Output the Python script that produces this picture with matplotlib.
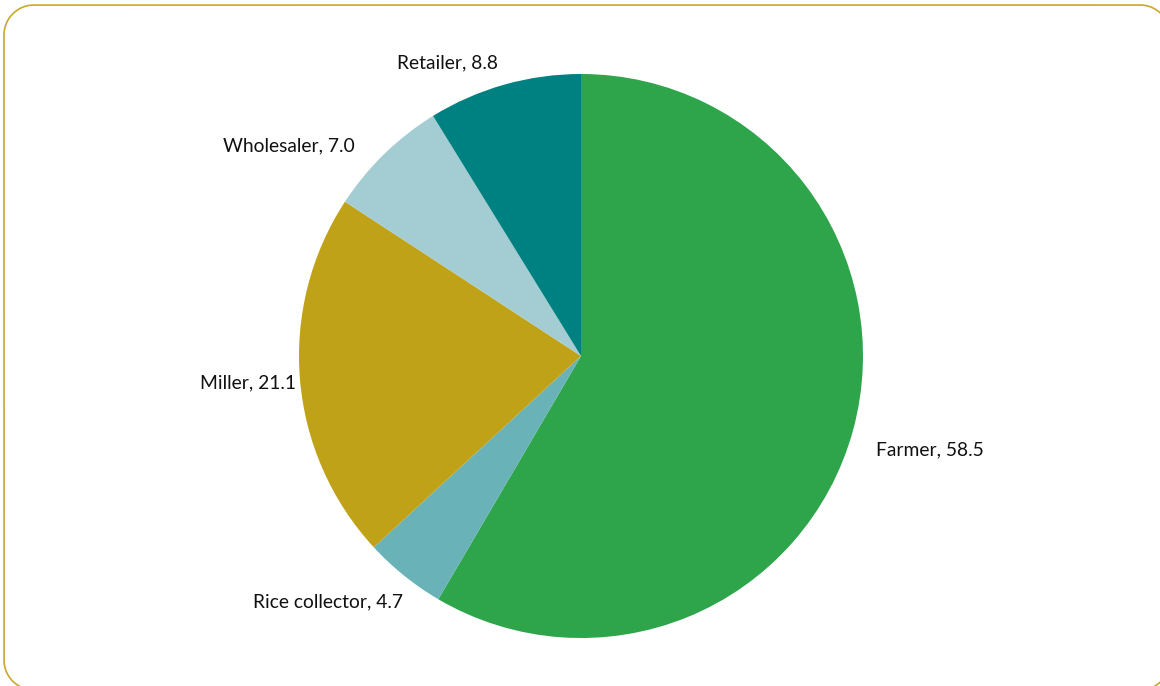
import numpy as np
import matplotlib
matplotlib.use("Agg")
import matplotlib.pyplot as plt
from matplotlib.lines import Line2D
from matplotlib.transforms import IdentityTransform, ScaledTranslation

categories = ["Farmer", "Rice collector", "Miller", "Wholesaler", "Retailer"]
values = [58.5, 4.7, 21.1, 7.0, 8.8]
colors = ["#2EA44B", "#69B2B8", "#C0A219", "#A3CDD2", "#008181"]

labels = [f"{c}, {v:.1f}" for c, v in zip(categories, values)]

# small per-label nudges (pixels, x right / y down) — styling only
label_nudges = [(4, 15), (11, 11), (16, 2), (-16, 6), (-1, -3)]

plt.rcParams['font.family'] = ['Lato', 'DejaVu Sans']

W, H = 1160, 686
fig = plt.figure(figsize=(W / 100, H / 100), dpi=100)
ax = fig.add_axes([0, 0, 1, 1])

cx, cy, R = 581, 356, 282
wedges, texts = ax.pie(values, labels=labels, colors=colors, startangle=90,
                       counterclock=False, radius=1, labeldistance=1.07,
                       wedgeprops=dict(linewidth=0),
                       textprops=dict(fontsize=13.9, color="#111111"))
for t, (dx, dy) in zip(texts, label_nudges):
    t.set_transform(t.get_transform() +
                    ScaledTranslation(dx / 100, -dy / 100, fig.dpi_scale_trans))

ax.set_xlim(-cx / R, (W - cx) / R)
ax.set_ylim(-(H - cy) / R, cy / R)
ax.set_aspect('equal')
ax.axis('off')

# rounded frame drawn as a polyline in pixel coordinates
x0, y0, x1, y1, rr = 4, -4, 1170, 681, 30
pts = []
for (ccx, ccy, a0) in [(x1 - rr, y1 - rr, 0), (x0 + rr, y1 - rr, 90),
                       (x0 + rr, y0 + rr, 180), (x1 - rr, y0 + rr, 270)]:
    a = np.radians(np.linspace(a0, a0 + 90, 40))
    pts.extend(zip(ccx + rr * np.cos(a), ccy + rr * np.sin(a)))
pts.append(pts[0])
bx, by = zip(*pts)
fig.add_artist(Line2D(bx, by, transform=IdentityTransform(),
                      color="#C9A82C", linewidth=1.2))

fig.savefig("out.png", dpi=100)
